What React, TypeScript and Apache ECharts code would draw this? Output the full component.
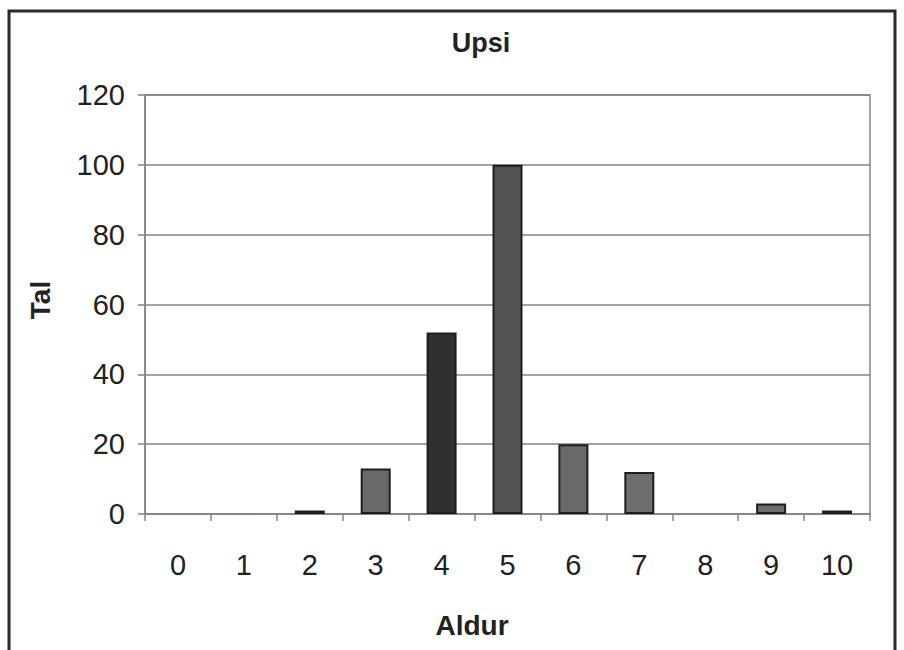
import React, { useEffect, useRef } from "react";
import * as echarts from "echarts";

const categories = ["0", "1", "2", "3", "4", "5", "6", "7", "8", "9", "10"];
const values = [0, 0, 1, 13, 52, 100, 20, 12, 0, 3, 1];
const barColors = ["#6e6e6e", "#6e6e6e", "#6e6e6e", "#6a6a6a", "#303030", "#525252", "#6a6a6a", "#6e6e6e", "#6e6e6e", "#6e6e6e", "#6e6e6e"];
const yTicks = { min: 0, max: 120, interval: 20 };
const titleText = "Upsi";
const xName = "Aldur";
const yName = "Tal";

const FONT = "'Liberation Sans', Arial, sans-serif";

export default function App() {
  const ref = useRef<HTMLDivElement>(null);
  useEffect(() => {
    if (!ref.current) return;
    const chart = echarts.init(ref.current, null, { renderer: "svg" });
    chart.setOption({
      animation: false,
      backgroundColor: "#ffffff",
      textStyle: { fontFamily: FONT },
      grid: {
        left: 145,
        right: 34,
        top: 95,
        bottom: 136,
        show: true,
        borderColor: "#858585",
        borderWidth: 1.5,
      },
      graphic: [
        {
          type: "rect",
          shape: { x: 9, y: 11, width: 886, height: 660 },
          style: { fill: "none", stroke: "#2a2a2a", lineWidth: 3 },
        },
        {
          type: "text",
          x: 481,
          y: 43,
          style: {
            text: titleText,
            font: `bold 27px ${FONT}`,
            fill: "#222",
            align: "center",
            verticalAlign: "middle",
          },
        },
        {
          type: "text",
          x: 472,
          y: 625,
          style: {
            text: xName,
            font: `bold 28px ${FONT}`,
            fill: "#222",
            align: "center",
            verticalAlign: "middle",
          },
        },
        {
          type: "text",
          x: 40,
          y: 300,
          rotation: Math.PI / 2,
          style: {
            text: yName,
            font: `bold 28px ${FONT}`,
            fill: "#222",
            align: "center",
            verticalAlign: "middle",
          },
        },
      ],
      xAxis: {
        type: "category",
        data: categories,
        axisLine: { lineStyle: { color: "#858585", width: 1.5 } },
        axisTick: { show: true, length: 7, lineStyle: { color: "#858585", width: 1.5 } },
        axisLabel: { color: "#222", fontSize: 29, margin: 36, fontFamily: FONT },
      },
      yAxis: {
        type: "value",
        min: yTicks.min,
        max: yTicks.max,
        interval: yTicks.interval,
        axisLine: { show: true, lineStyle: { color: "#858585", width: 1.5 } },
        axisTick: { show: true, length: 7, lineStyle: { color: "#858585", width: 1.5 } },
        axisLabel: { color: "#222", fontSize: 29, margin: 20, fontFamily: FONT },
        splitLine: { show: true, lineStyle: { color: "#858585", width: 1.5 } },
      },
      series: [
        {
          type: "bar",
          data: values.map((v, i) => ({
            value: v,
            itemStyle: {
              color: barColors[i],
              borderColor: "#1e1e1e",
              borderWidth: v > 0 ? 2 : 0,
            },
          })),
          barWidth: 30,
        },
      ],
    });
    return () => chart.dispose();
  }, []);
  return (
    <div
      ref={ref}
      style={{ position: "fixed", left: 0, top: 0, width: 904, height: 650 }}
    />
  );
}
